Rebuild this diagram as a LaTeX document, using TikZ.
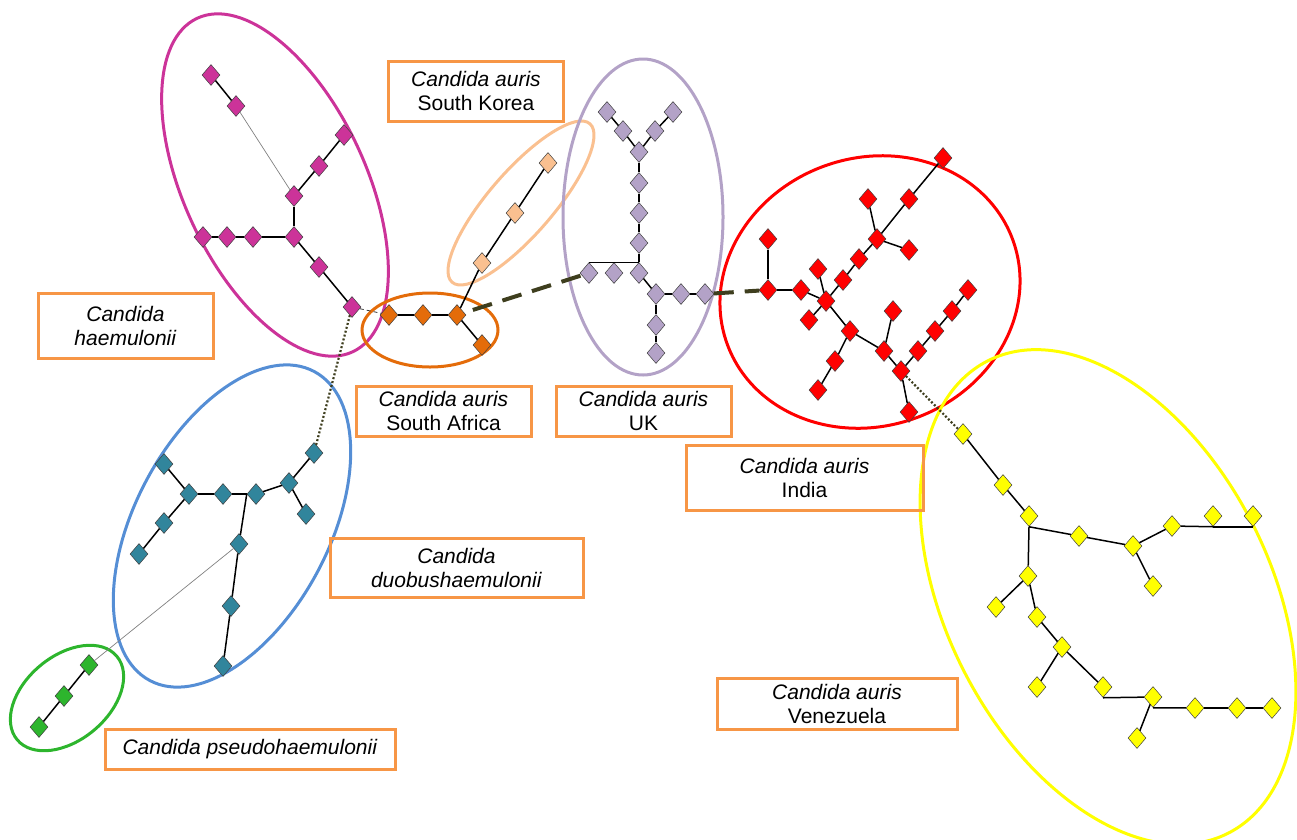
\documentclass[tikz,border=0pt]{standalone}
\usepackage{fontspec}
\setmainfont{Liberation Sans}
\usetikzlibrary{shapes.geometric}

\definecolor{haeCol}{RGB}{204,51,153}
\definecolor{saCol}{RGB}{228,108,10}
\definecolor{skCol}{RGB}{250,192,144}
\definecolor{ukCol}{RGB}{179,162,199}
\definecolor{inCol}{RGB}{255,0,0}
\definecolor{veCol}{RGB}{255,255,0}
\definecolor{duCol}{RGB}{49,133,156}
\definecolor{duRing}{RGB}{85,142,213}
\definecolor{psCol}{RGB}{45,181,45}
\definecolor{tagCol}{RGB}{247,150,70}
\definecolor{olive}{RGB}{62,62,30}

\begin{document}
\begin{tikzpicture}[x=1pt,y=-1pt,
	gnode/.style={diamond,draw=black!75,line width=0.5pt,inner sep=0pt,minimum width=18pt,minimum height=21pt},
	hae/.style={gnode,fill=haeCol},
	sa/.style={gnode,fill=saCol},
	sk/.style={gnode,fill=skCol},
	uk/.style={gnode,fill=ukCol},
	ind/.style={gnode,fill=inCol},
	ven/.style={gnode,fill=veCol},
	duo/.style={gnode,fill=duCol},
	pse/.style={gnode,fill=psCol},
	link/.style={line width=1.5pt},
	faint/.style={line width=0.7pt,gray},
	dotlink/.style={olive,line width=2.2pt,dash pattern=on 2pt off 2pt},
	dashlink/.style={olive,line width=4pt,dash pattern=on 20pt off 11pt},
	thinlink/.style={black!80,line width=0.8pt,dash pattern=on 4pt off 3pt},
	ring/.style={line width=3pt},
	tag/.style={draw=tagCol,line width=3pt,align=center,inner sep=0pt,font=\fontsize{21}{24}\selectfont}]

	\useasboundingbox (0,0) rectangle (1297,839);

	% rings round the groups
	\draw[ring,haeCol,rotate around={25:(275,185)}] (275,185) ellipse [x radius=91pt,y radius=184pt];
	\draw[ring,saCol] (430,330) ellipse [x radius=68pt,y radius=37pt];
	\draw[ring,skCol,rotate around={49:(521,203)}] (521,203) ellipse [x radius=105pt,y radius=32pt];
	\draw[ring,ukCol] (643,217) ellipse [x radius=80pt,y radius=158pt];
	\draw[ring,inCol,rotate around={20:(870,292)}] (870,292) ellipse [x radius=152pt,y radius=134pt];
	\draw[ring,veCol,rotate around={27:(1108,597)}] (1108,597) ellipse [x radius=162pt,y radius=265pt];
	\draw[ring,duRing,rotate around={-28:(232,526)}] (232,526) ellipse [x radius=97pt,y radius=175pt];
	\draw[ring,psCol,rotate around={40:(67,698)}] (67,698) ellipse [x radius=65pt,y radius=42pt];

	% haemulonii
	\node[hae] (h1) at (211,75) {};
	\node[hae] (h2) at (236,106) {};
	\node[hae] (h3) at (344,135) {};
	\node[hae] (h4) at (319,166) {};
	\node[hae] (h5) at (294,196) {};
	\node[hae] (h6) at (294,237) {};
	\node[hae] (h7) at (253,237) {};
	\node[hae] (h8) at (227,237) {};
	\node[hae] (h9) at (203,237) {};
	\node[hae] (h10) at (319,267) {};
	\node[hae] (h11) at (352,307) {};

	% South Africa and South Korea
	\node[sa] (sa1) at (389,315) {};
	\node[sa] (sa2) at (423,315) {};
	\node[sa] (sa3) at (457,315) {};
	\node[sa] (sa4) at (482,345) {};
	\node[sk] (k1) at (548,163) {};
	\node[sk] (k2) at (515,213) {};
	\node[sk] (k3) at (482,263) {};

	% UK
	\node[uk] (u1) at (607,112) {};
	\node[uk] (u2) at (673,112) {};
	\node[uk] (u3) at (623,131) {};
	\node[uk] (u4) at (655,131) {};
	\node[uk] (u5) at (639,152) {};
	\node[uk] (u6) at (639,183) {};
	\node[uk] (u7) at (639,213) {};
	\node[uk] (u8) at (639,243) {};
	\node[uk] (u9) at (589,273) {};
	\node[uk] (u10) at (614,273) {};
	\node[uk] (u11) at (639,273) {};
	\node[uk] (u12) at (656,294) {};
	\node[uk] (u13) at (681,294) {};
	\node[uk] (u14) at (705,294) {};
	\node[uk] (u15) at (656,325) {};
	\node[uk] (u16) at (656,353) {};

	% India
	\node[ind] (i1) at (943,158) {};
	\node[ind] (i2) at (909,199) {};
	\node[ind] (i3) at (868,199) {};
	\node[ind] (i4) at (877,239) {};
	\node[ind] (i5) at (909,250) {};
	\node[ind] (i6) at (859,259) {};
	\node[ind] (i7) at (843,280) {};
	\node[ind] (i8) at (826,301) {};
	\node[ind] (i9) at (818,269) {};
	\node[ind] (i10) at (809,320) {};
	\node[ind] (i11) at (768,239) {};
	\node[ind] (i12) at (768,290) {};
	\node[ind] (i13) at (801,290) {};
	\node[ind] (i14) at (850,331) {};
	\node[ind] (i15) at (835,361) {};
	\node[ind] (i16) at (818,390) {};
	\node[ind] (i17) at (884,351) {};
	\node[ind] (i18) at (893,311) {};
	\node[ind] (i19) at (901,371) {};
	\node[ind] (i20) at (918,351) {};
	\node[ind] (i21) at (935,331) {};
	\node[ind] (i22) at (952,311) {};
	\node[ind] (i23) at (968,290) {};
	\node[ind] (i24) at (909,412) {};

	% Venezuela
	\node[ven] (v1) at (963,434) {};
	\node[ven] (v2) at (1003,485) {};
	\node[ven] (v3) at (1029,516) {};
	\node[ven] (v4) at (1079,536) {};
	\node[ven] (v5) at (1133,546) {};
	\node[ven] (v6) at (1172,526) {};
	\node[ven] (v7) at (1213,516) {};
	\node[ven] (v8) at (1253,516) {};
	\node[ven] (v9) at (1153,586) {};
	\node[ven] (v10) at (1028,576) {};
	\node[ven] (v11) at (996,607) {};
	\node[ven] (v12) at (1037,617) {};
	\node[ven] (v13) at (1062,647) {};
	\node[ven] (v14) at (1037,687) {};
	\node[ven] (v15) at (1103,687) {};
	\node[ven] (v16) at (1153,697) {};
	\node[ven] (v17) at (1195,708) {};
	\node[ven] (v18) at (1237,708) {};
	\node[ven] (v19) at (1272,708) {};
	\node[ven] (v20) at (1137,738) {};

	% duobushaemulonii and pseudohaemulonii
	\node[duo] (d1) at (314,453) {};
	\node[duo] (d2) at (289,483) {};
	\node[duo] (d3) at (306,514) {};
	\node[duo] (d4) at (256,494) {};
	\node[duo] (d5) at (223,494) {};
	\node[duo] (d6) at (189,494) {};
	\node[duo] (d7) at (164,464) {};
	\node[duo] (d8) at (164,523) {};
	\node[duo] (d9) at (139,554) {};
	\node[duo] (d10) at (239,544) {};
	\node[duo] (d11) at (231,606) {};
	\node[duo] (d12) at (223,666) {};
	\node[pse] (p1) at (89,665) {};
	\node[pse] (p2) at (64,696) {};
	\node[pse] (p3) at (39,727) {};

	\path[link] (h1) edge (h2) (h2) edge[faint] (h5) (h5) edge (h4) (h4) edge (h3)
		(h5) edge (h6) (h6) edge (h7) (h7) edge (h8) (h8) edge (h9)
		(h6) edge (h10) (h10) edge (h11);
	\path[link] (sa1) edge (sa2) (sa2) edge (sa3) (sa3) edge (sa4) (sa3) edge (k3)
		(k3) edge (k2) (k2) edge (k1);
	\path[link] (u1) edge (u3) (u3) edge (u5) (u2) edge (u4) (u4) edge (u5)
		(u5) edge (u6) (u6) edge (u7) (u7) edge (u8) (u8) edge (u11)
		(u11.north) edge (u9.north) (u11) edge (u12) (u12) edge (u13) (u13) edge (u14)
		(u12) edge (u15) (u15) edge (u16);
	\path[link] (i1) edge (i2) (i2) edge (i4) (i4) edge (i3) (i4) edge (i5)
		(i4) edge (i6) (i6) edge (i7) (i7) edge (i8) (i9) edge (i8) (i8) edge (i14)
		(i13) edge (i8) (i8) edge (i10) (i11) edge (i12) (i12) edge (i13)
		(i14) edge (i15) (i15) edge (i16) (i14) edge (i17) (i17) edge (i18)
		(i17) edge (i19) (i19) edge (i20) (i20) edge (i21) (i21) edge (i22)
		(i22) edge (i23) (i19) edge (i24);
	\path[link] (v1) edge (v2) (v2) edge (v3) (v3.south) edge (v4) (v4) edge (v5)
		(v5) edge (v6) (v6) edge (v7.south) (v7.south) edge (v8.south) (v5) edge (v9)
		(v3.south) edge (v10) (v10) edge (v11) (v10) edge (v12) (v12) edge (v13)
		(v13) edge (v14) (v13) edge (v15) (v15.south) edge (v16) (v16.south) edge (v17)
		(v17) edge (v18) (v18) edge (v19) (v16) edge (v20);
	\path[link] (d1) edge (d2) (d2) edge (d3) (d2) edge (d4) (d4) edge (d5)
		(d5) edge (d6) (d6) edge (d7) (d6) edge (d8) (d8) edge (d9)
		(d4.west) edge (d10) (d10) edge (d11) (d11) edge (d12)
		(p1) edge (p2) (p2) edge (p3);

	% links between the groups
	\draw[thinlink] (h11) -- (sa1);
	\draw[dotlink] (h11) -- (d1);
	\draw[faint] (d10) -- (p1);
	\draw[dashlink,shorten <=9pt] (sa3) -- (u9);
	\draw[dashlink] (u14) -- (i12);
	\draw[dotlink] (i19) -- (v1);

	% labels
	\node[tag,minimum width=175pt,minimum height=60pt] (tagSK) at (476,91) {\textit{Candida auris}\\South Korea};
	\node[tag,minimum width=175pt,minimum height=65pt] (tagHae) at (125.5,325.5) {\textit{Candida}\\\textit{haemulonii}};
	\node[tag,minimum width=175pt,minimum height=50pt] (tagSA) at (443.5,411) {\textit{Candida auris}\\South Africa};
	\node[tag,minimum width=175pt,minimum height=50pt] (tagUK) at (643.5,411) {\textit{Candida auris}\\UK};
	\node[tag,minimum width=237pt,minimum height=65pt] (tagIn) at (804.5,477.5) {\textit{Candida auris}\\India};
	\node[tag,minimum width=253pt,minimum height=59pt] (tagDu) at (456.5,567.5) {\textit{Candida}\\\textit{duobushaemulonii}};
	\node[tag,minimum width=290pt,minimum height=40pt] (tagPs) at (250,749) {\textit{Candida pseudohaemulonii}};
	\node[tag,minimum width=240pt,minimum height=51pt] (tagVe) at (837,703.5) {\textit{Candida auris}\\Venezuela};
\end{tikzpicture}
\end{document}
